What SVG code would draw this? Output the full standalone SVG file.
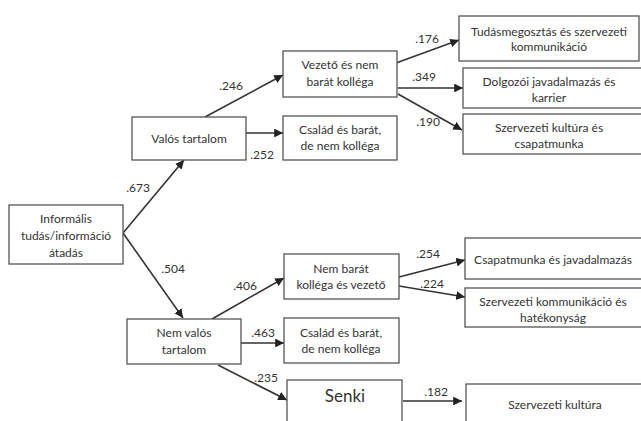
<svg xmlns="http://www.w3.org/2000/svg" width="641" height="421" viewBox="0 0 641 421">
<defs>
<style>
.box{fill:#fff;stroke:#555;stroke-width:1.3}
.t{font-family:Lato,"Open Sans",sans-serif;font-size:12px;fill:#333;text-anchor:middle}
.lb{font-family:Lato,"Open Sans",sans-serif;font-size:12px;fill:#333;text-anchor:middle}
.c{stroke:#333;stroke-width:1.6;fill:none;marker-end:url(#ah)}
</style>
<marker id="ah" viewBox="0 0 10 10" refX="10" refY="5" markerWidth="5.5" markerHeight="5.5" orient="auto" markerUnits="strokeWidth">
<path d="M0,0 L10,5 L0,10 z" fill="#222"/>
</marker>
</defs>
<rect width="641" height="421" fill="#fff"/>
<g id="connectors">
<path class="c" d="M123,233 L184,160"/>
<path class="c" d="M123,233 L183,318"/>
<path class="c" d="M205,117 L283,75"/>
<path class="c" d="M246,133 L283,133"/>
<path class="c" d="M396,63 L459,40"/>
<path class="c" d="M398,88 L463,88"/>
<path class="c" d="M398,94 L462,130"/>
<path class="c" d="M212,319 L284,278"/>
<path class="c" d="M241,343 L284,343"/>
<path class="c" d="M218,365 L287,400"/>
<path class="c" d="M399,277 L465,260"/>
<path class="c" d="M399,286 L465,297"/>
<path class="c" d="M403,401 L462,401"/>
<g class="lb">
<text x="138" y="192">.673</text>
<text x="173" y="273">.504</text>
<text x="231" y="90">.246</text>
<text x="262" y="159">.252</text>
<text x="427" y="43">.176</text>
<text x="424" y="81">.349</text>
<text x="428" y="126">.190</text>
<text x="245" y="290">.406</text>
<text x="263" y="337">.463</text>
<text x="266" y="382">.235</text>
<text x="428" y="258">.254</text>
<text x="432" y="288">.224</text>
<text x="436" y="396">.182</text>
</g>
</g>
<g id="informalis"><rect class="box" x="9" y="205" width="114" height="59"/><text class="t" x="66" y="223">Informális</text><text class="t" x="66" y="240">tudás/információ</text><text class="t" x="66" y="257">átadás</text></g>
<g id="valos"><rect class="box" x="132" y="117" width="114" height="43"/><text class="t" x="189" y="143">Valós tartalom</text></g>
<g id="nemvalos"><rect class="box" x="127" y="319" width="114" height="45"/><text class="t" x="184" y="337">Nem valós</text><text class="t" x="184" y="354">tartalom</text></g>
<g id="vezeto"><rect class="box" x="283" y="51" width="114" height="46"/><text class="t" x="340" y="69">Vezető és nem</text><text class="t" x="340" y="86">barát kolléga</text></g>
<g id="csalad1"><rect class="box" x="283" y="116" width="114" height="44"/><text class="t" x="340" y="134">Család és barát,</text><text class="t" x="340" y="150">de nem kolléga</text></g>
<g id="nembarat"><rect class="box" x="284" y="254" width="115" height="45"/><text class="t" x="341" y="273">Nem barát</text><text class="t" x="341" y="289">kolléga és vezető</text></g>
<g id="csalad2"><rect class="box" x="284" y="318" width="115" height="45"/><text class="t" x="341" y="337">Család és barát,</text><text class="t" x="341" y="353">de nem kolléga</text></g>
<g id="senki"><rect class="box" x="287" y="380" width="115" height="50"/><text class="t" x="345" y="402" style="font-size:17px">Senki</text></g>
<g id="tudas"><rect class="box" x="459" y="16" width="180" height="45"/><text class="t" x="549" y="36">Tudásmegosztás és szervezeti</text><text class="t" x="549" y="51">kommunikáció</text></g>
<g id="dolgozoi"><rect class="box" x="463" y="68" width="180" height="40"/><text class="t" x="549" y="86">Dolgozói javadalmazás és</text><text class="t" x="549" y="102">karrier</text></g>
<g id="kultura1"><rect class="box" x="463" y="114" width="180" height="40"/><text class="t" x="549" y="132">Szervezeti kultúra és</text><text class="t" x="549" y="148">csapatmunka</text></g>
<g id="csapatmunka"><rect class="box" x="465" y="238" width="180" height="41"/><text class="t" x="553" y="264">Csapatmunka és javadalmazás</text></g>
<g id="kommunikacio"><rect class="box" x="465" y="288" width="180" height="39"/><text class="t" x="553" y="306">Szervezeti kommunikáció és</text><text class="t" x="553" y="322">hatékonyság</text></g>
<g id="kultura2"><rect class="box" x="466" y="384" width="180" height="50"/><text class="t" x="555" y="409">Szervezeti kultúra</text></g>
</svg>
